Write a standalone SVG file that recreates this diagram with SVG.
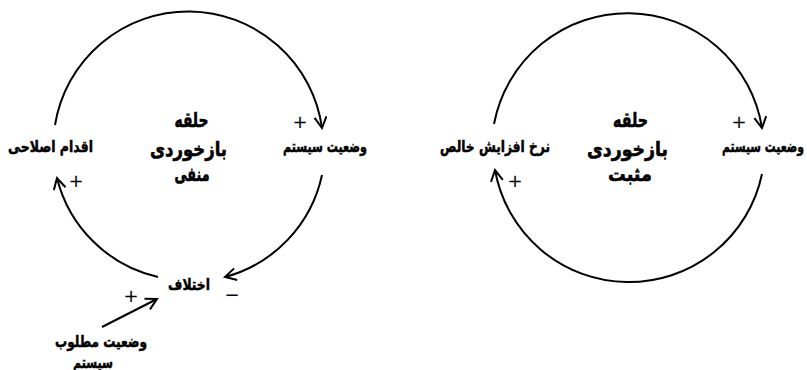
<svg xmlns="http://www.w3.org/2000/svg" width="807" height="370" viewBox="0 0 807 370">
<style>
.lbl{font-family:"DejaVu Sans","Noto Sans",sans-serif;font-weight:bold;font-size:16px;fill:#000;stroke:#000;stroke-width:0.5;text-anchor:middle}
.ttl{font-family:"DejaVu Sans","Noto Sans",sans-serif;font-weight:bold;font-size:20px;fill:#000;stroke:#000;stroke-width:0.6;text-anchor:middle}
.sgn{font-family:"DejaVu Sans",sans-serif;font-size:18px;fill:#000;text-anchor:middle}
.lnk{fill:none;stroke:#000;stroke-width:2;marker-end:url(#arr)}
</style>
<defs>
<marker id="arr" markerUnits="userSpaceOnUse" markerWidth="16" markerHeight="16" refX="12" refY="7" orient="auto">
<path d="M1,1 L12,7 L1,13" fill="none" stroke="#000" stroke-width="2"/>
</marker>
</defs>
<rect width="807" height="370" fill="#fff"/>
<g id="connectors">
<path class="lnk" d="M55,125 A135,135 0 0 1 322,128"/>
<path class="lnk" d="M322,175 A135,135 0 0 1 225,277"/>
<path class="lnk" d="M158,277 A135,135 0 0 1 57,178"/>
<path class="lnk" d="M102,327 L157,299"/>
<path class="lnk" d="M494,124 A136,136 0 0 1 762,128"/>
<path class="lnk" d="M762,174 A136,136 0 0 1 495,170"/>
</g>
<g id="neg-title">
<text class="ttl" x="191.5" y="127" textLength="34" lengthAdjust="spacingAndGlyphs">حلقه</text>
<text class="ttl" x="188.5" y="156" textLength="77" lengthAdjust="spacingAndGlyphs">بازخوردی</text>
<text class="ttl" x="192" y="181" textLength="35" lengthAdjust="spacingAndGlyphs">منفی</text>
</g>
<g id="node-corrective"><text class="lbl" x="50.5" y="152" textLength="85" lengthAdjust="spacingAndGlyphs">اقدام اصلاحی</text></g>
<g id="node-state-1"><text class="lbl" x="325" y="152" textLength="84" lengthAdjust="spacingAndGlyphs">وضعیت سیستم</text></g>
<g id="node-gap"><text class="lbl" x="189" y="290" textLength="42" lengthAdjust="spacingAndGlyphs">اختلاف</text></g>
<g id="node-desired">
<text class="lbl" x="101" y="347" textLength="92" lengthAdjust="spacingAndGlyphs">وضعیت مطلوب</text>
<text class="lbl" x="93" y="368" textLength="40" lengthAdjust="spacingAndGlyphs">سیستم</text>
</g>
<g id="signs-neg">
<text class="sgn" x="300" y="128">+</text>
<text class="sgn" x="76" y="187">+</text>
<text class="sgn" x="131" y="302">+</text>
<text class="sgn" x="232" y="301">−</text>
</g>
<g id="pos-title">
<text class="ttl" x="630.5" y="127" textLength="35" lengthAdjust="spacingAndGlyphs">حلقه</text>
<text class="ttl" x="627.5" y="156" textLength="81" lengthAdjust="spacingAndGlyphs">بازخوردی</text>
<text class="ttl" x="630" y="181" textLength="44" lengthAdjust="spacingAndGlyphs">مثبت</text>
</g>
<g id="node-net-rate"><text class="lbl" x="495" y="152" textLength="110" lengthAdjust="spacingAndGlyphs">نرخ افزایش خالص</text></g>
<g id="node-state-2"><text class="lbl" x="763" y="152" textLength="82" lengthAdjust="spacingAndGlyphs">وضعیت سیستم</text></g>
<g id="signs-pos">
<text class="sgn" x="739" y="128">+</text>
<text class="sgn" x="515" y="187">+</text>
</g>
</svg>
